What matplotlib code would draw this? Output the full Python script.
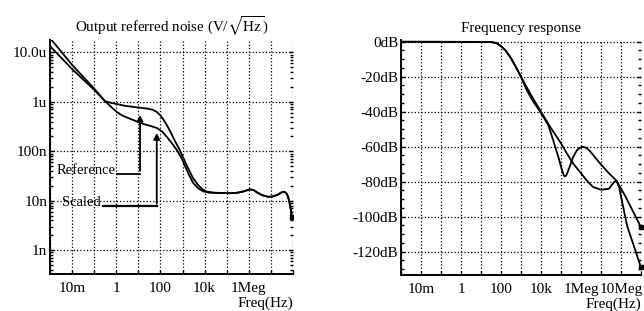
import numpy as np
import matplotlib.pyplot as plt
from matplotlib.ticker import FixedLocator, FixedFormatter, NullFormatter, LogLocator, MultipleLocator

plt.rcParams['font.family'] = 'Liberation Serif'
plt.rcParams['mathtext.fontset'] = 'stix'
plt.rcParams['font.size'] = 10.5

# output referred noise (V/sqrt(Hz))
ref_f = [1e-3, 0.01, 0.1, 0.31, 0.6, 1.07, 2.5, 6, 12, 25, 45, 70, 100, 140, 200, 280, 400, 780,
         1450, 3000, 5000, 8000, 13000, 30000,
         1.4e5, 3e5, 6e5, 1.1e6, 1.6e6, 2.5e6, 4e6, 7.4e6, 1.2e7, 2e7, 3e7, 4e7, 5e7, 6e7, 7e7, 8e7, 8.7e7]
ref_v = [1.34e-5, 4.6e-6, 1.75e-6, 1.03e-6, 9.5e-7, 9.0e-7, 8.3e-7, 7.9e-7, 7.6e-7, 7.3e-7, 6.9e-7, 6.2e-7,
         5.3e-7, 4.3e-7, 3.3e-7, 2.5e-7, 1.8e-7, 1.02e-7,
         5.5e-8, 2.85e-8, 2.1e-8, 1.7e-8, 1.52e-8, 1.45e-8,
         1.42e-8, 1.45e-8, 1.55e-8, 1.7e-8, 1.65e-8, 1.45e-8, 1.3e-8, 1.2e-8, 1.22e-8, 1.32e-8, 1.47e-8,
         1.52e-8, 1.42e-8, 1.2e-8, 9e-9, 6.5e-9, 4.7e-9]
scl_f = [1e-3, 0.01, 0.1, 0.31, 0.6, 1.07, 2, 5.7, 16, 40, 70, 120, 200, 350, 560, 900, 1300, 2000,
         3000, 5000, 8500, 17000,
         1.4e5, 3e5, 6e5, 1.1e6, 1.6e6, 2.5e6, 4e6, 7.4e6, 1.2e7, 2e7, 3e7, 4e7, 5e7, 6e7, 7e7, 8e7, 8.7e7]
scl_v = [1.95e-5, 5.6e-6, 1.85e-6, 1.03e-6, 7.8e-7, 6.2e-7, 5.2e-7, 4.3e-7, 3.6e-7, 3.2e-7, 2.95e-7, 2.5e-7,
         1.93e-7, 1.4e-7, 1.05e-7, 7.3e-8, 5.0e-8, 3.3e-8, 2.3e-8, 1.8e-8, 1.55e-8, 1.45e-8,
         1.42e-8, 1.45e-8, 1.55e-8, 1.7e-8, 1.65e-8, 1.45e-8, 1.3e-8, 1.2e-8, 1.22e-8, 1.32e-8, 1.47e-8,
         1.52e-8, 1.42e-8, 1.2e-8, 9e-9, 6.5e-9, 4.7e-9]

# frequency response (dB)
a_f = [1e-3, 30, 60, 100, 170, 300, 500, 1000, 1930, 4000, 7900, 15000, 23000, 40000, 73000, 1.1e5,
       1.4e5, 1.6e5, 1.9e5, 2.6e5, 4.1e5, 6.3e5, 9e5, 1.3e6, 1.9e6, 2.8e6, 5e6, 8.9e6, 2.2e7, 6e7,
       8e7, 1.6e8, 1e9]
a_db = [0, -0.1, -0.8, -2.5, -5, -9, -13.5, -20, -27.6, -34, -39, -44, -47.6, -56, -65.7, -73,
        -76.5, -77, -76, -72, -65.7, -62, -60.5, -60, -60.7, -62.5, -66, -69.5, -74.5, -79.5,
        -82, -88, -106]
b_f = [1e-3, 30, 60, 100, 170, 300, 500, 1000, 3000, 1e4, 3e4, 1e5, 2e5, 4e5, 9e5, 2e6, 4e6, 1e7,
       2.5e7, 4.5e7, 6e7, 8e7, 2e8, 1e9]
b_db = [0, -0.1, -0.8, -2.5, -5, -9, -13.5, -20, -30, -40, -49, -58, -64, -69.5, -74.5, -79.5, -83,
        -84.6, -84, -80.2, -79.5, -83, -105, -129]

decades1 = [10.0 ** k for k in range(-3, 9)]
dec_labels1 = ['', '10m', '', '1', '', '100', '', '10k', '', '1Meg', '', '']
decades2 = [10.0 ** k for k in range(-3, 10)]
dec_labels2 = ['', '10m', '', '1', '', '100', '', '10k', '', '1Meg', '', '10Meg', '']
noise_ticks = [1e-9, 1e-8, 1e-7, 1e-6, 1e-5]
noise_labels = ['1n', '10n', '100n', '1u', '10.0u']
db_ticks = [-120, -100, -80, -60, -40, -20, 0]
db_labels = ['-120dB', '-100dB', '-80dB', '-60dB', '-40dB', '-20dB', '0dB']

fig = plt.figure(figsize=(6.44, 3.11), dpi=100)
ax1 = fig.add_axes([50/644, 37/311, 243/644, 234/311])
ax2 = fig.add_axes([401/644, 36/311, 240/644, 235/311])


def style(ax, fticks, flabels):
    ax.set_xscale('log')
    ax.xaxis.set_major_locator(FixedLocator(fticks))
    ax.xaxis.set_major_formatter(FixedFormatter(flabels))
    ax.xaxis.set_minor_locator(FixedLocator([]))
    ax.grid(True, which='major', color='k', linestyle=':', linewidth=0.9)
    for s in ['top', 'right']:
        ax.spines[s].set_visible(False)
    for s in ['left', 'bottom']:
        ax.spines[s].set_linewidth(1.4)
    ax.tick_params(axis='x', which='major', direction='in', length=3, width=1, top=False,
                   pad=6, labelsize=11)
    ax.tick_params(axis='y', which='both', direction='in', right=True, width=1, labelsize=11, pad=2)
    ax.tick_params(axis='y', which='major', length=3)
    ax.tick_params(axis='y', which='minor', length=2)
    ax.text(1.0, -0.125, 'Freq(Hz)', transform=ax.transAxes, ha='right', va='center', fontsize=11)


# left: noise
ax1.plot(ref_f, ref_v, 'k-', lw=1.3)
ax1.plot(scl_f, scl_v, 'k-', lw=1.3)
ax1.plot(ref_f[-1], ref_v[-1], 'ks', ms=3.5)
style(ax1, decades1, dec_labels1)
ax1.set_yscale('log')
ax1.yaxis.set_major_locator(FixedLocator(noise_ticks))
ax1.yaxis.set_major_formatter(FixedFormatter(noise_labels))
ax1.yaxis.set_minor_locator(LogLocator(base=10, subs=np.arange(2, 10), numticks=20))
ax1.yaxis.set_minor_formatter(NullFormatter())
ax1.set_xlim(1e-3, 1e8)
ax1.set_ylim(3.3e-10, 1.78e-5)
ax1.set_title('Output referred noise (V/$\\sqrt{\\mathrm{Hz}}$)', fontsize=10.8, pad=6)

# labels with arrows
ax1.text(0.97, 3.55e-8, 'Reference', ha='right', va='baseline', fontsize=10.5)
ax1.plot([1.07, 11.9], [3.55e-8, 3.55e-8], 'k-', lw=1.3)
ax1.annotate('', xy=(11.9, 6.2e-7), xytext=(11.9, 3.55e-8),
             arrowprops=dict(arrowstyle='-|>', color='k', lw=1.3, mutation_scale=9))
ax1.text(0.2, 7.7e-9, 'Scaled', ha='right', va='baseline', fontsize=10.5)
ax1.plot([0.25, 68], [7.7e-9, 7.7e-9], 'k-', lw=1.6)
ax1.annotate('', xy=(68, 2.67e-7), xytext=(68, 7.7e-9),
             arrowprops=dict(arrowstyle='-|>', color='k', lw=1.3, mutation_scale=9))

# right: frequency response
ax2.plot(a_f, a_db, 'k-', lw=1.3)
ax2.plot(b_f, b_db, 'k-', lw=1.3)
ax2.plot([a_f[-1], b_f[-1]], [a_db[-1], b_db[-1]], 'ks', ms=3.5, clip_on=False)
style(ax2, decades2, dec_labels2)
ax2.yaxis.set_major_locator(FixedLocator(db_ticks))
ax2.yaxis.set_major_formatter(FixedFormatter(db_labels))
ax2.yaxis.set_minor_locator(MultipleLocator(5))
ax2.set_xlim(1e-3, 1e9)
ax2.set_ylim(-133.3, 1)
ax2.set_title('Frequency response', fontsize=10.8, pad=6)

fig.savefig('out.png', dpi=100)
